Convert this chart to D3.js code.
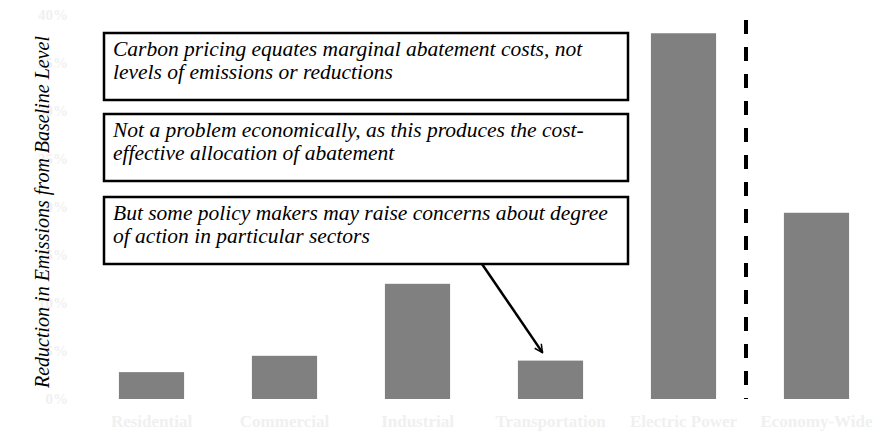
<!DOCTYPE html>
<html>
<head>
<meta charset="utf-8">
<script src="https://cdn.jsdelivr.net/npm/d3@7"></script>
<style>
  body { margin: 0; background: #fff; }
  svg { display: block; }
  .serif { font-family: 'Liberation Serif', 'Times New Roman', Times, serif; }
</style>
</head>
<body>
<svg id="chart" width="873" height="435"></svg>
<script>
// sectors and reductions (% below baseline)
var sectors = ["Residential", "Commercial", "Industrial", "Transportation", "Electric Power", "Economy-Wide"];
var reductions = [2.8, 4.5, 12.0, 4.0, 38.1, 19.4];
var yTicks = [0, 5, 10, 15, 20, 25, 30, 35, 40];

// annotation text, one array per box
var notes = [
    ["Carbon pricing equates marginal abatement costs, not", "levels of emissions or reductions"],
    ["Not a problem economically, as this produces the cost-", "effective allocation of abatement"],
    ["But some policy makers may raise concerns about degree", "of action in particular sectors"]
];

var svg = d3.select("#chart");

var x = d3.scaleBand()
    .domain(sectors)
    .range([85, 883])
    .paddingInner(0.51)
    .paddingOuter(0.255);

var y = d3.scaleLinear()
    .domain([0, 40])
    .range([399, 15]);

// y tick labels (very faint in the original)
svg.append("g")
    .selectAll("text")
    .data(yTicks)
    .enter().append("text")
    .attr("class", "serif")
    .attr("x", 68)
    .attr("y", function(d) { return y(d) + 5; })
    .attr("text-anchor", "end")
    .style("font-size", "15px")
    .style("font-weight", "bold")
    .attr("fill", "#f0f0f0")
    .text(function(d) { return d + "%"; });

// category labels (also faint)
svg.append("g")
    .selectAll("text")
    .data(sectors)
    .enter().append("text")
    .attr("class", "serif")
    .attr("x", function(d) { return x(d) + x.bandwidth() / 2; })
    .attr("y", 427)
    .attr("text-anchor", "middle")
    .style("font-size", "17px")
    .style("font-weight", "bold")
    .attr("fill", "#f0f0f0")
    .text(function(d) { return d; });

// bars
svg.append("g")
    .selectAll("rect")
    .data(reductions)
    .enter().append("rect")
    .attr("x", function(d, i) { return x(sectors[i]); })
    .attr("y", function(d) { return y(d); })
    .attr("width", x.bandwidth())
    .attr("height", function(d) { return y(0) - y(d); })
    .attr("fill", "#808080");

// dashed separator between sectors and economy-wide
var sepX = x("Economy-Wide") - (x.step() - x.bandwidth()) / 2 - 4;
svg.append("line")
    .attr("x1", sepX).attr("x2", sepX)
    .attr("y1", 20).attr("y2", 399)
    .attr("stroke", "#000")
    .attr("stroke-width", 4)
    .attr("stroke-dasharray", "14,13");

// y axis title
svg.append("text")
    .attr("class", "serif")
    .attr("transform", "translate(49,212) rotate(-90)")
    .attr("text-anchor", "middle")
    .style("font-style", "italic")
    .style("font-size", "20px")
    .attr("fill", "#000")
    .text("Reduction in Emissions from Baseline Level");

// annotation boxes
var boxTops = [33, 114, 197];
var box = svg.append("g");
notes.forEach(function(lines, i) {
    box.append("rect")
        .attr("x", 104)
        .attr("y", boxTops[i])
        .attr("width", 524)
        .attr("height", 67)
        .attr("fill", "#fff")
        .attr("stroke", "#000")
        .attr("stroke-width", 2.5);
    lines.forEach(function(t, j) {
        box.append("text")
            .attr("class", "serif")
            .attr("x", 113)
            .attr("y", boxTops[i] + 23 + j * 23)
            .style("font-style", "italic")
            .style("font-size", "21.5px")
            .attr("fill", "#000")
            .text(t);
    });
});

// arrow pointing at transportation bar
svg.append("defs").append("marker")
    .attr("id", "head")
    .attr("viewBox", "0 0 10 10")
    .attr("refX", 9).attr("refY", 5)
    .attr("markerWidth", 4).attr("markerHeight", 4)
    .attr("orient", "auto")
    .append("path")
    .attr("d", "M1,1 L9,5 L1,9")
    .attr("fill", "none")
    .attr("stroke", "#000")
    .attr("stroke-width", 1.5);

var tx = x("Transportation") + x.bandwidth() / 2 - 8;
var ty = y(reductions[3]) - 8;
svg.append("line")
    .attr("x1", 482).attr("y1", boxTops[2] + 67)
    .attr("x2", tx).attr("y2", ty)
    .attr("stroke", "#000")
    .attr("stroke-width", 2.5)
    .attr("marker-end", "url(#head)");
</script>
</body>
</html>
